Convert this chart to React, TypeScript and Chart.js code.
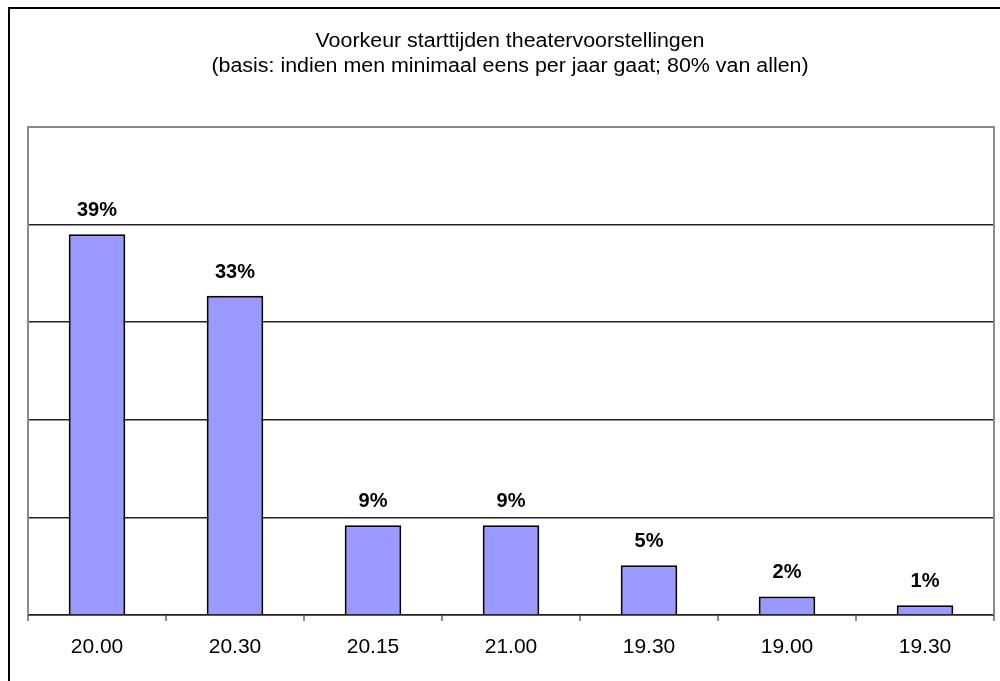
import React, { useEffect, useRef } from "react";
import { Chart, registerables } from "chart.js";

Chart.register(...registerables);

const titleLines = [
  "Voorkeur starttijden theatervoorstellingen",
  "(basis: indien men minimaal eens per jaar gaat; 80% van allen)",
];
const categories = ["20.00", "20.30", "20.15", "21.00", "19.30", "19.00", "19.30"];
const values = [39, 32.7, 9.2, 9.2, 5.1, 1.9, 1];
const valueLabels = ["39%", "33%", "9%", "9%", "5%", "2%", "1%"];
const yMax = 50;
const yStep = 10;

const FONT = "'Liberation Sans', Arial, sans-serif";

export default function App() {
  const ref = useRef<HTMLCanvasElement | null>(null);

  useEffect(() => {
    if (!ref.current) return;
    const overlay = {
      id: "overlay",
      afterDatasetsDraw(chart: any) {
        const ctx = chart.ctx;
        const area = chart.chartArea;
        ctx.save();
        // title (slightly widened like the original rendering)
        ctx.fillStyle = "#000";
        ctx.font = `20px ${FONT}`;
        ctx.textAlign = "center";
        ctx.textBaseline = "alphabetic";
        const sx = 1.07;
        ctx.save();
        ctx.translate(510, 0);
        ctx.scale(sx, 1);
        ctx.fillText(titleLines[0], 0, 47);
        ctx.fillText(titleLines[1], 0, 72);
        ctx.restore();
        // plot border (left, top, right)
        ctx.strokeStyle = "#8a8a8a";
        ctx.lineWidth = 2;
        ctx.beginPath();
        ctx.moveTo(area.left, area.bottom);
        ctx.lineTo(area.left, area.top);
        ctx.lineTo(area.right, area.top);
        ctx.lineTo(area.right, area.bottom);
        ctx.stroke();
        // value labels
        const meta = chart.getDatasetMeta(0);
        ctx.font = `bold 20px ${FONT}`;
        meta.data.forEach((bar: any, i: number) => {
          ctx.fillText(valueLabels[i], bar.x, bar.y - 18);
        });
        ctx.restore();
      },
    };

    const chart = new Chart(ref.current, {
      type: "bar",
      data: {
        labels: categories,
        datasets: [
          {
            data: values,
            backgroundColor: "#9999ff",
            borderColor: "#000",
            borderWidth: 2,
            barPercentage: 0.41,
            categoryPercentage: 1,
          },
        ],
      },
      options: {
        responsive: false,
        animation: false,
        layout: { padding: { left: 28, right: 6, top: 127, bottom: 0 } },
        plugins: {
          legend: { display: false },
          title: { display: false },
          tooltip: { enabled: false },
        },
        scales: {
          x: {
            offset: true,
            grid: {
              offset: true,
              drawOnChartArea: false,
              drawTicks: true,
              tickLength: 6,
              color: "#8a8a8a",
              lineWidth: 2,
            },
            border: { display: true, color: "#222", width: 1.5 },
            ticks: {
              color: "#000",
              font: { family: FONT, size: 21 },
              padding: 14,
              maxRotation: 0,
              autoSkip: false,
            },
            afterFit: (s: any) => {
              s.height = 66;
            },
          },
          y: {
            min: 0,
            max: yMax,
            ticks: { stepSize: yStep, display: false },
            grid: {
              drawTicks: false,
              color: (c: any) => (c.tick && c.tick.value === yMax ? "rgba(0,0,0,0)" : "#222"),
              lineWidth: 1.5,
            },
            border: { display: false },
            afterFit: (s: any) => {
              s.width = 0;
            },
          },
        },
      },
      plugins: [overlay],
    });
    return () => chart.destroy();
  }, []);

  return (
    <div style={{ position: "fixed", left: 0, top: 0, width: 1000, height: 681, background: "#fff", overflow: "hidden" }}>
      <div
        style={{
          position: "absolute",
          left: 8,
          top: 7,
          width: 1100,
          height: 800,
          borderLeft: "2px solid #000",
          borderTop: "2px solid #000",
        }}
      />
      <canvas ref={ref} width={1000} height={681} style={{ position: "absolute", left: 0, top: 0 }} />
    </div>
  );
}
